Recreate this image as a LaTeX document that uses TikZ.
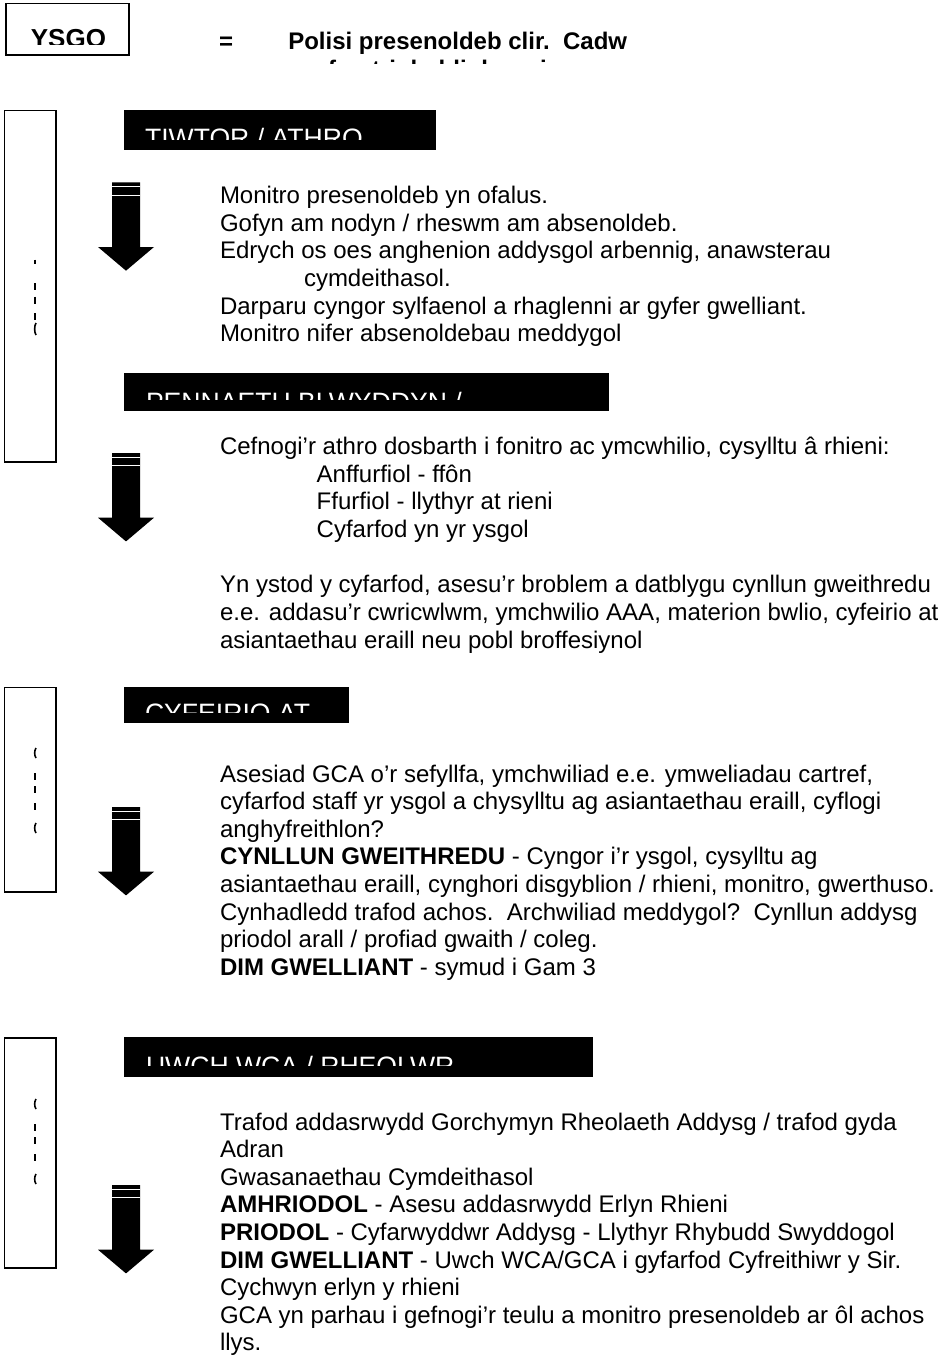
\documentclass[tikz,border=0pt]{standalone}
\usepackage{fontspec}
\setmainfont{Liberation Sans}
\newcommand\blockarrow[1]{%
  \fill[black] (112,#1) -- (140,#1) -- (140,#1+64.7) -- (154,#1+64.7) -- (126,#1+88.4) -- (98,#1+64.7) -- (112,#1+64.7) -- cycle;
  \draw[white, line width=0.5pt] (112,#1+4.4) -- (140,#1+4.4) (112,#1+12.7) -- (140,#1+12.7);}
\newcommand\smdash[2]{\draw[sidemark] (35,#1) -- (35,#2);}
\newcommand\smparen[2]{\draw[sidemark] (36,#1) .. controls (34.2,#1+3) and (34.2,#2-3) .. (36,#2);}
\begin{document}
\begin{tikzpicture}[x=0.5pt,y=-0.5pt,
  body/.style={anchor=base west, inner sep=0pt, outer sep=0pt, font=\fontsize{12}{13.8}\selectfont},
  hdrtext/.style={anchor=base west, inner sep=0pt, outer sep=0pt, text=white, font=\fontsize{13.3}{16}\selectfont},
  sidebox/.style={draw=black, line width=0.75pt},
  hdrbar/.style={fill=black},
  sidemark/.style={line width=0.8pt, black}]
\fill[white] (0,0) rectangle (944,1355);
\useasboundingbox (0,0) rectangle (944,1355);

% ---------- top line ----------
\draw[sidebox] (6,3.5) rectangle (129,55);
\begin{scope}
  \clip (7,4) rectangle (128,44);
  \node[anchor=base west, inner sep=0pt, font=\fontsize{13}{15.6}\selectfont\bfseries] (ysgo) at (30.5,47.9) {YSGO};
\end{scope}
\node[body, font=\fontsize{12}{13.8}\selectfont\bfseries] (eq) at (219,49) {=};
\node[body, font=\fontsize{12}{13.8}\selectfont\bfseries] (pol1) at (288.3,49) {Polisi presenoldeb clir.\ \ Cadw};
\begin{scope}
  \clip (280,55) rectangle (700,63);
  \node[body, font=\fontsize{12}{13.8}\selectfont\bfseries] (pol2) at (300,77.5) {cofrestri dyddiol cywir.};
\end{scope}

% ---------- section 1 ----------
\draw[sidebox] (4.5,110.5) rectangle (56,462);
\smdash{259.5}{264}
\smdash{283}{290}
\smdash{296.5}{303.5}
\smdash{313}{320}
\smparen{323}{335}
\fill[hdrbar] (123.5,110) rectangle (436,150);
\begin{scope}
  \clip (123.5,110) rectangle (436,139);
  \node[hdrtext] (h1) at (145,147.3) {TIWTOR / ATHRO};
\end{scope}
\blockarrow{182.3}
\node[body] (s1a) at (220,203.3) {Monitro presenoldeb yn ofalus.};
\node[body] (s1b) at (220,231) {Gofyn am nodyn / rheswm am absenoldeb.};
\node[body] (s1c) at (220,258.7) {Edrych os oes anghenion addysgol arbennig, anawsterau};
\node[body] (s1d) at (304,286.4) {cymdeithasol.};
\node[body] (s1e) at (220,314.1) {Darparu cyngor sylfaenol a rhaglenni ar gyfer gwelliant.};
\node[body] (s1f) at (220,341.8) {Monitro nifer absenoldebau meddygol};

% ---------- section 2 ----------
\fill[hdrbar] (123.5,373) rectangle (609,411);
\begin{scope}
  \clip (123.5,373) rectangle (609,399.5);
  \node[hdrtext] (h2) at (146,411.7) {PENNAETH BLWYDDYN /};
\end{scope}
\blockarrow{453}
\node[body] (s2a) at (220,454.3) {Cefnogi’r athro dosbarth i fonitro ac ymcwhilio, cysylltu â rhieni:};
\node[body] (s2b) at (316.7,482) {Anffurfiol - ffôn};
\node[body] (s2c) at (316.7,509.7) {Ffurfiol - llythyr at rieni};
\node[body] (s2d) at (316.7,537.4) {Cyfarfod yn yr ysgol};
\node[body] (s2e) at (220,592.8) {Yn ystod y cyfarfod, asesu’r broblem a datblygu cynllun gweithredu};
\node[body] (s2f) at (220,620.5) {e.e. addasu’r cwricwlwm, ymchwilio AAA, materion bwlio, cyfeirio at};
\node[body] (s2g) at (220,648.2) {asiantaethau eraill neu pobl broffesiynol};

% ---------- section 3 ----------
\draw[sidebox] (4.5,687.5) rectangle (56,892);
\smparen{748}{758}
\smdash{773}{780}
\smdash{786}{793}
\smdash{803}{810}
\smparen{823}{833}
\fill[hdrbar] (123.5,687) rectangle (349,722.5);
\begin{scope}
  \clip (123.5,687) rectangle (349,712);
  \node[hdrtext] (h3) at (145,722) {CYFEIRIO AT};
\end{scope}
\blockarrow{807}
\node[body] (s3a) at (220,782) {Asesiad GCA o’r sefyllfa, ymchwiliad e.e. ymweliadau cartref,};
\node[body] (s3b) at (220,809.6) {cyfarfod staff yr ysgol a chysylltu ag asiantaethau eraill, cyflogi};
\node[body] (s3c) at (220,837.2) {anghyfreithlon?};
\node[body] (s3d) at (220,864.8) {\textbf{CYNLLUN GWEITHREDU} - Cyngor i’r ysgol, cysylltu ag};
\node[body] (s3e) at (220,892.4) {asiantaethau eraill, cynghori disgyblion / rhieni, monitro, gwerthuso.};
\node[body] (s3f) at (220,920) {Cynhadledd trafod achos.\ \ Archwiliad meddygol?\ \ Cynllun addysg};
\node[body] (s3g) at (220,947.6) {priodol arall / profiad gwaith / coleg.};
\node[body] (s3h) at (220,975.2) {\textbf{DIM GWELLIANT} - symud i Gam 3};

% ---------- section 4 ----------
\draw[sidebox] (4.5,1038) rectangle (56,1268);
\smparen{1099}{1109}
\smdash{1124}{1131}
\smdash{1137}{1144}
\smdash{1154}{1161}
\smparen{1174}{1184}
\fill[hdrbar] (123.5,1037) rectangle (593,1077);
\begin{scope}
  \clip (123.5,1037) rectangle (593,1065);
  \node[hdrtext] (h4) at (146,1075) {UWCH WCA / RHEOLWR};
\end{scope}
\blockarrow{1185}
\node[body] (s4a) at (220,1130) {Trafod addasrwydd Gorchymyn Rheolaeth Addysg / trafod gyda};
\node[body] (s4b) at (220,1157.6) {Adran};
\node[body] (s4c) at (220,1185.2) {Gwasanaethau Cymdeithasol};
\node[body] (s4d) at (220,1212.8) {\textbf{AMHRIODOL} - Asesu addasrwydd Erlyn Rhieni};
\node[body] (s4e) at (220,1240.4) {\textbf{PRIODOL} - Cyfarwyddwr Addysg - Llythyr Rhybudd Swyddogol};
\node[body] (s4f) at (220,1268) {\textbf{DIM GWELLIANT} - Uwch WCA/GCA i gyfarfod Cyfreithiwr y Sir.};
\node[body] (s4g) at (220,1295.6) {Cychwyn erlyn y rhieni};
\node[body] (s4h) at (220,1323.2) {GCA yn parhau i gefnogi’r teulu a monitro presenoldeb ar ôl achos};
\node[body] (s4i) at (220,1350.8) {llys.};
\end{tikzpicture}
\end{document}
